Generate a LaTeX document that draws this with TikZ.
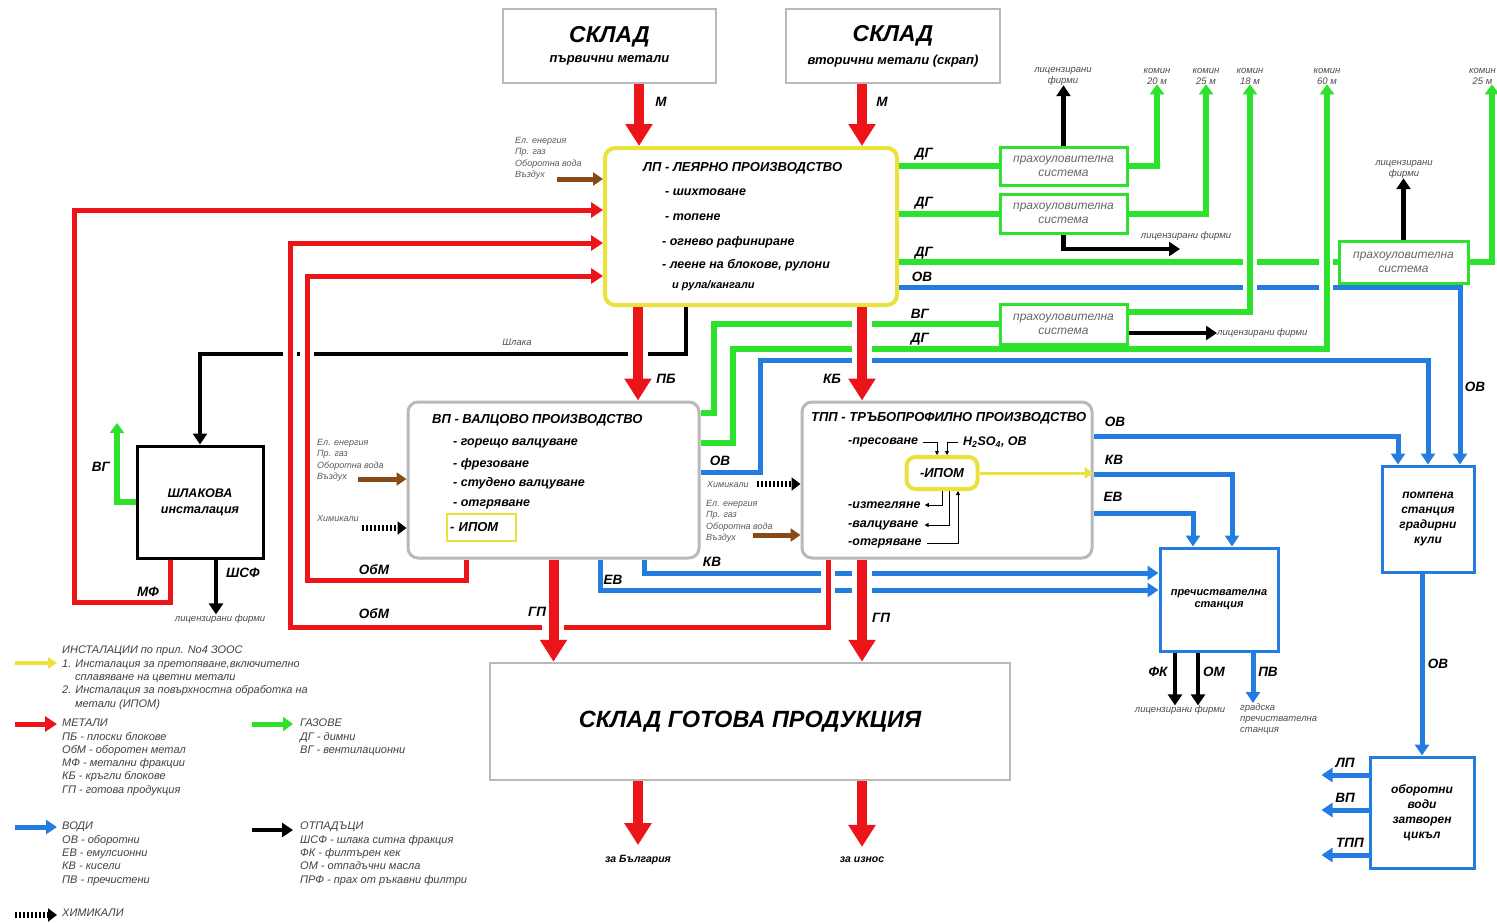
\documentclass[tikz,border=0pt]{standalone}
\usepackage{fontspec}
\setmainfont{Liberation Sans}
\usetikzlibrary{arrows.meta,positioning}
\definecolor{cherveno}{RGB}{235,20,25}
\definecolor{zeleno}{RGB}{45,225,45}
\definecolor{sino}{RGB}{35,125,225}
\definecolor{zhalto}{RGB}{235,225,60}
\definecolor{kafyavo}{RGB}{135,75,25}
\definecolor{sivo}{RGB}{185,185,185}

\begin{document}
\begin{tikzpicture}[x=1pt,y=-1pt]
\tikzstyle{sklad}=[rectangle, draw=sivo, line width=2.5pt, fill=white, inner sep=0pt, align=center, font=\bfseries\itshape]
\tikzstyle{ceh}=[rectangle, rounded corners=10pt, draw=sivo, line width=3pt, fill=white, inner sep=0pt]
\tikzstyle{filtar}=[rectangle, draw=zeleno, line width=3pt, fill=white, minimum width=127pt, inner sep=0pt, align=center, text=black!60, font=\itshape\fontsize{12}{14}\selectfont]
\tikzstyle{sinkutia}=[rectangle, draw=sino, line width=3pt, fill=white, inner sep=0pt, align=center, font=\bfseries\itshape\fontsize{12}{15}\selectfont]
\tikzstyle{ipom}=[rectangle, draw=zhalto, line width=2.5pt, inner sep=0pt, font=\bfseries\itshape\fontsize{13}{15}\selectfont]
\tikzstyle{naslov}=[inner sep=0pt, anchor=west, font=\bfseries\itshape\fontsize{13}{15}\selectfont]
\tikzstyle{stapka}=[inner sep=0pt, anchor=west, font=\bfseries\itshape\fontsize{12.5}{15}\selectfont]
\tikzstyle{oznaka}=[inner sep=0pt, font=\bfseries\itshape\fontsize{13.5}{15}\selectfont]
\tikzstyle{malka}=[inner sep=0pt, align=center, text=black!70, font=\itshape\fontsize{9.5}{11}\selectfont]
\tikzstyle{vhod}=[inner sep=0pt, anchor=north west, align=left, text=black!65, font=\itshape\fontsize{9}{11.5}\selectfont]
\tikzstyle{legenda}=[inner sep=0pt, anchor=north west, align=left, text=black!75, font=\itshape\fontsize{11}{13.3}\selectfont]
\tikzstyle{debela}=[draw=cherveno, line width=10pt, -{Triangle[length=22pt,width=26pt]}]
\tikzstyle{tanka}=[draw=cherveno, line width=5pt, -{Triangle[length=12pt,width=15pt]}]
\tikzstyle{zelena}=[draw=zeleno, line width=6pt]
\tikzstyle{zelenastr}=[zelena, -{Triangle[length=10pt,width=14pt]}]
\tikzstyle{sinya}=[draw=sino, line width=5pt, -{Triangle[length=11pt,width=14pt]}]
\tikzstyle{cherna}=[draw=black, line width=4.5pt, -{Triangle[length=11pt,width=14pt]}]
\tikzstyle{kafyava}=[draw=kafyavo, line width=5pt, -{Triangle[length=10pt,width=13pt]}]
\tikzstyle{zhalta}=[draw=zhalto, line width=3pt, -{Triangle[length=9pt,width=11pt]}]
\tikzstyle{himikali}=[draw=black, line width=6pt, dash pattern=on 2pt off 2pt, -{Triangle[length=9pt,width=13pt]}]
\tikzstyle{tankachr}=[draw=black, line width=0.8pt, -{Triangle[length=4pt,width=4pt]}]
\tikzstyle{prazno}=[draw=white, line width=14pt]

\useasboundingbox (0,0) rectangle (1497,922);
\clip (0,0) rectangle (1497,922);

\node[sklad, minimum width=213pt, minimum height=74pt] (sklad1) at (609.5,46) {{\fontsize{23}{26}\selectfont СКЛАД}\\[8pt]{\fontsize{13}{15}\selectfont първични метали}};
\node[sklad, minimum width=214pt, minimum height=74pt] (sklad2) at (893,46) {{\fontsize{23}{26}\selectfont СКЛАД}\\[8pt]{\fontsize{13}{15}\selectfont вторични метали (скрап)}};
\node[ceh, draw=zhalto, line width=4pt, minimum width=292pt, minimum height=157pt] (LP) at (751,226.5) {};
\node[ceh, minimum width=291pt, minimum height=156pt] (VP) at (553.5,480) {};
\node[ceh, minimum width=290pt, minimum height=156pt] (TPP) at (947,480) {};
\node[rectangle, draw=black, line width=3pt, fill=white, minimum width=126pt, minimum height=112pt, inner sep=0pt, align=center, font=\bfseries\itshape\fontsize{12.5}{16}\selectfont] (shl) at (200,502) {ШЛАКОВА\\инсталация};
\node[sklad, minimum width=520pt, minimum height=117pt, font=\bfseries\itshape\fontsize{23.5}{26}\selectfont] (GP) at (750,721.5) {СКЛАД ГОТОВА ПРОДУКЦИЯ};
\node[sinkutia, minimum width=118pt, minimum height=103pt, font=\bfseries\itshape\fontsize{11}{12.5}\selectfont] (PrS) at (1219,599.5) {пречиствателна\\станция};
\node[sinkutia, minimum width=92pt, minimum height=106pt] (PoS) at (1428,519) {помпена\\станция\\градирни\\кули};
\node[sinkutia, minimum width=104pt, minimum height=111pt] (OvZ) at (1422,812.5) {оборотни\\води\\затворен\\цикъл};
\node[filtar, minimum height=38pt] (PS1) at (1063.5,166) {прахоуловителна\\система};
\node[filtar, minimum height=39pt] (PS2) at (1063.5,213.5) {прахоуловителна\\система};
\node[filtar, minimum height=40pt] (PS3) at (1063.5,324) {прахоуловителна\\система};
\node[filtar, minimum width=129pt, minimum height=42pt] (PS4) at (1403.5,262) {прахоуловителна\\система};

\node[naslov] (LPn) at (643,168) {ЛП - ЛЕЯРНО ПРОИЗВОДСТВО};
\node[stapka] (LP1) at (665,192) {- шихтоване};
\node[stapka] (LP2) at (665,217) {- топене};
\node[stapka] (LP3) at (662,242) {- огнево рафиниране};
\node[stapka] (LP4) at (662,265) {- леене на блокове, рулони};
\node[stapka, font=\bfseries\itshape\fontsize{11}{13}\selectfont] (LP5) at (672,286) {и рула/кангали};

\node[naslov] (VPn) at (432,420) {ВП - ВАЛЦОВО ПРОИЗВОДСТВО};
\node[stapka] (VP1) at (453,443) {- горещо валцуване};
\node[stapka] (VP2) at (453,464) {- фрезоване};
\node[stapka] (VP3) at (453,483) {- студено валцуване};
\node[stapka] (VP4) at (453,504) {- отгряване};
\node[ipom, minimum width=69pt, minimum height=27pt, text width=63pt] (VPipom) at (481.5,527.5) {- ИПОМ};

\node[naslov] (TPPn) at (811,418) {ТПП - ТРЪБОПРОФИЛНО ПРОИЗВОДСТВО};
\node[stapka] (TPP1) at (848,442) {-пресоване};
\node[stapka] (TPPh) at (963,442) {H\textsubscript{2}SO\textsubscript{4}, ОВ};
\node[ipom, line width=4pt, rounded corners=9pt, minimum width=71pt, minimum height=32pt] (TPPipom) at (942,473) {-ИПОМ};
\node[stapka] (TPP2) at (848,505) {-изтегляне};
\node[stapka] (TPP3) at (848,525) {-валцуване};
\node[stapka] (TPP4) at (848,543) {-отгряване};

\node[malka] (lf1) at (1063,76) {лицензирани\\фирми};
\node[malka] (k20) at (1157,76) {комин\\20 м};
\node[malka] (k25) at (1206,76) {комин\\25 м};
\node[malka] (k18) at (1250,76) {комин\\18 м};
\node[malka] (k60) at (1327,76) {комин\\60 м};
\node[malka, anchor=east] (k25b) at (1496,76) {комин\\25 м};
\node[malka] (lf4) at (1404,169) {лицензирани\\фирми};
\node[malka] (lf2) at (1186,236) {лицензирани фирми};
\node[malka, anchor=west] (lf3) at (1217,333) {лицензирани фирми};
\node[malka] (lfShl) at (220,619) {лицензирани фирми};
\node[malka] (lfPr) at (1180,710) {лицензирани фирми};
\node[malka, anchor=north west, align=left] (gradska) at (1240,703) {градска\\пречиствателна\\станция};
\node[malka] (shlaka) at (517,342) {Шлака};

\node[vhod] (vhLP) at (515,137) {Ел. енергия\\Пр. газ\\Оборотна вода\\Въздух};
\node[vhod] (vhVP) at (317,439) {Ел. енергия\\Пр. газ\\Оборотна вода\\Въздух};
\node[vhod] (vhTPP) at (706,500) {Ел. енергия\\Пр. газ\\Оборотна вода\\Въздух};
\node[vhod, anchor=west] (hmVP) at (317,518) {Химикали};
\node[vhod, anchor=west] (hmTPP) at (707,484) {Химикали};
\coordinate (vLPk) at (557,179);
\coordinate (vVPk) at (358,479);
\coordinate (vTPPk) at (753,535);
\coordinate (hmVPk) at (362,528);
\coordinate (hmTPPk) at (757,484);
\coordinate (lf2k) at (1180,249);
\coordinate (vgk) at (117,423);

\node[oznaka] (zaBG) at (638,860) {\fontsize{10.5}{12}\selectfont за България};
\node[oznaka] (zaIz) at (862,860) {\fontsize{10.5}{12}\selectfont за износ};

\draw[cherna] ([xshift=-65pt]LP.south) |- (200,354) -- (shl.north);
\draw[prazno] (290,348) -- (290,360);
\draw[prazno] (307,348) -- (307,360);
\draw[prazno, line width=20pt] (638,348) -- (638,360);

\draw[zelena] (LP.east |- PS1.west) -- (PS1.west);
\draw[zelena] (LP.east |- PS2.west) -- (PS2.west);
\draw[zelena] (LP.east |- PS4.west) -- (PS4.west);
\draw[sinya] (LP.east |- 0,287) -| ([xshift=32pt]PoS.north);
\draw[prazno] (1250,256) -- (1250,294);
\draw[prazno] (1326,256) -- (1326,294);

\draw[zelenastr] (PS1.east) -| (k20.south);
\draw[zelenastr] (PS2.east) -| (k25.south);
\draw[zelenastr] (PS4.east) -| (k25b.south -| 1492,0);
\draw[zelenastr] (PS3.east |- 0,312) -| (k18.south);
\draw[zelena] (VP.east |- 0,413) -| (714,324) -- (PS3.west);
\draw[zelenastr] (VP.east |- 0,443) -| (733,349) -| (k60.south);
\draw[zelenastr] (shl.west) -| (vgk);
\draw[sinya] (VP.east |- 0,472) -| (760,360) -| (PoS.north);
\draw[sinya] (TPP.east |- 0,436) -| ([xshift=-30pt]PoS.north);
\draw[sinya] (TPP.east |- 0,474) -| ([xshift=13pt]PrS.north);
\draw[sinya] (TPP.east |- 0,513) -| ([xshift=-26pt]PrS.north);
\draw[sinya] ([xshift=91pt]VP.south) |- (PrS.west |- 0,573);
\draw[sinya] ([xshift=47pt]VP.south) |- (PrS.west |- 0,590);
\draw[sinya] ([xshift=34pt]PrS.south) -- ([xshift=34pt]PrS.south |- gradska.north);
\draw[sinya] (PoS.south -| OvZ.north) -- (OvZ.north);
\draw[sinya] (OvZ.west |- 0,775) -- ++(-47,0);
\draw[sinya] (OvZ.west |- 0,810) -- ++(-47,0);
\draw[sinya] (OvZ.west |- 0,855) -- ++(-47,0);

\draw[prazno, line width=20pt] (862,317) -- (862,367);
\draw[prazno] (828,566) -- (828,597);
\draw[prazno, line width=20pt] (862,566) -- (862,597);

\draw[tanka] ([xshift=-30pt]shl.south) |- (74,602) |- (LP.west |- 0,210);
\draw[tanka] ([xshift=-87pt]VP.south) |- (307,580) |- (LP.west |- 0,276);
\draw[tanka] ([xshift=-119pt]TPP.south) |- (290,627) |- (LP.west |- 0,243);
\draw[prazno, line width=22pt] (553,620) -- (553,634);

\draw[debela] ([xshift=29.5pt]sklad1.south) -- ([xshift=29.5pt]sklad1.south |- LP.north);
\draw[debela] ([xshift=-31pt]sklad2.south) -- ([xshift=-31pt]sklad2.south |- LP.north);
\draw[debela] ([xshift=-113pt]LP.south) -- ([xshift=-113pt]LP.south |- VP.north);
\draw[debela] ([xshift=111pt]LP.south) -- ([xshift=111pt]LP.south |- TPP.north);
\draw[debela] (VP.south) -- (VP.south |- GP.north);
\draw[debela] ([xshift=-85pt]TPP.south) -- ([xshift=-85pt]TPP.south |- GP.north);
\draw[debela] (zaBG.north |- GP.south) -- ([yshift=10pt]zaBG.north);
\draw[debela] (zaIz.north |- GP.south) -- ([yshift=10pt]zaIz.north);

\draw[cherna] ([xshift=16pt]shl.south) -- ([xshift=16pt]shl.south |- lfShl.north);
\draw[cherna] (PS1.north) -- (PS1.north |- lf1.south);
\draw[cherna] (PS2.south) |- (lf2k);
\draw[cherna] (PS3.east |- 0,333) -- (lf3.west);
\draw[cherna] (PS4.north) -- (PS4.north |- lf4.south);
\draw[cherna] ([xshift=-44pt]PrS.south) -- ([xshift=-44pt]PrS.south |- lfPr.north);
\draw[cherna] ([xshift=-21pt]PrS.south) -- ([xshift=-21pt]PrS.south |- lfPr.north);

\draw[kafyava] (vLPk) -- (vLPk -| LP.west);
\draw[kafyava] (vVPk) -- (vVPk -| VP.west);
\draw[kafyava] (vTPPk) -- (vTPPk -| TPP.west);
\draw[himikali] (hmVPk) -- (hmVPk -| VP.west);
\draw[himikali] (hmTPPk) -- (hmTPPk -| TPP.west);
\draw[zhalta] (TPPipom.east) -- (TPPipom.east -| TPP.east);

\draw[tankachr] ([xshift=5pt]TPP1.east) -| ([xshift=-5pt]TPPipom.north);
\draw[tankachr] ([xshift=-5pt]TPPh.west) -| ([xshift=5pt]TPPipom.north);
\draw[tankachr] (TPPipom.south) |- ([xshift=4pt]TPP2.east);
\draw[tankachr] ([xshift=7pt]TPPipom.south) |- ([xshift=6pt]TPP3.east);
\draw[tankachr] ([xshift=5pt]TPP4.east) -| ([xshift=16pt]TPPipom.south);

\node[oznaka] (lM1) at (661,102) {М};
\node[oznaka] (lM2) at (882,102) {М};
\node[oznaka] (lPB) at (666,379) {ПБ};
\node[oznaka] (lKB) at (832,379) {КБ};
\node[oznaka] (lGP1) at (537,612) {ГП};
\node[oznaka] (lGP2) at (881,618) {ГП};
\node[oznaka] (lObM1) at (374,570) {ОбМ};
\node[oznaka] (lObM2) at (374,614) {ОбМ};
\node[oznaka] (lMF) at (148,592) {МФ};
\node[oznaka] (lShSF) at (243,573) {ШСФ};
\node[oznaka] (lVG1) at (101,467) {ВГ};
\node[oznaka] (lDG1) at (924,154) {ДГ};
\node[oznaka] (lDG2) at (924,203) {ДГ};
\node[oznaka] (lDG3) at (924,253) {ДГ};
\node[oznaka] (lOV1) at (922,277) {ОВ};
\node[oznaka] (lVG2) at (920,314) {ВГ};
\node[oznaka] (lDG4) at (920,339) {ДГ};
\node[oznaka] (lOV2) at (720,461) {ОВ};
\node[oznaka] (lOV3) at (1115,422) {ОВ};
\node[oznaka] (lKV1) at (1114,460) {КВ};
\node[oznaka] (lEV1) at (1113,497) {ЕВ};
\node[oznaka] (lEV2) at (613,580) {ЕВ};
\node[oznaka] (lKV2) at (712,562) {КВ};
\node[oznaka] (lOV4) at (1475,387) {ОВ};
\node[oznaka] (lOV5) at (1438,664) {ОВ};
\node[oznaka] (lFK) at (1158,672) {ФК};
\node[oznaka] (lOM) at (1214,672) {ОМ};
\node[oznaka] (lPV) at (1268,672) {ПВ};
\node[oznaka] (lLP) at (1345,763) {ЛП};
\node[oznaka] (lVP) at (1345,798) {ВП};
\node[oznaka] (lTPP) at (1350,843) {ТПП};

\node[legenda] (leg1) at (62,646) {ИНСТАЛАЦИИ по прил. No4 ЗООС\\1. Инсталация за претопяване,включително\\\hspace*{13pt}сплавяване на цветни метали\\2. Инсталация за повърхностна обработка на\\\hspace*{13pt}метали (ИПОМ)};
\node[legenda] (leg2) at (62,719) {МЕТАЛИ\\ПБ - плоски блокове\\ОбМ - оборотен метал\\МФ - метални фракции\\КБ - кръгли блокове\\ГП - готова продукция};
\node[legenda] (leg3) at (300,719) {ГАЗОВЕ\\ДГ - димни\\ВГ - вентилационни};
\node[legenda] (leg4) at (62,822) {ВОДИ\\ОВ - оборотни\\ЕВ - емулсионни\\КВ - кисели\\ПВ - пречистени};
\node[legenda] (leg5) at (300,822) {ОТПАДЪЦИ\\ШСФ - шлака ситна фракция\\ФК - филтърен кек\\ОМ - отпадъчни масла\\ПРФ - прах от ръкавни филтри};
\node[legenda] (leg6) at (62,909) {ХИМИКАЛИ};
\draw[zhalta, line width=4pt] (15,663) -- (57,663);
\draw[tanka] (15,724) -- (57,724);
\draw[zelenastr, line width=5pt] (252,724) -- (293,724);
\draw[sinya] (15,827) -- (57,827);
\draw[cherna] (252,830) -- (293,830);
\draw[himikali] (15,915) -- (57,915);
\end{tikzpicture}
\end{document}
